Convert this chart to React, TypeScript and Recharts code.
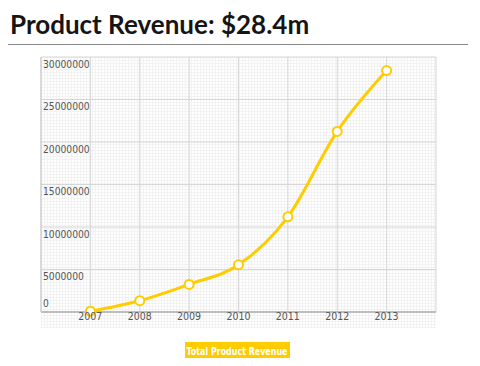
import { LineChart, Line, XAxis, YAxis, CartesianGrid } from "recharts";

const years = [2007, 2008, 2009, 2010, 2011, 2012, 2013];
const revenue = [100000, 1330000, 3250000, 5550000, 11200000, 21250000, 28400000];
const yTicks = [0, 5000000, 10000000, 15000000, 20000000, 25000000, 30000000];
const seriesName = "Total Product Revenue";
const title = "Product Revenue: $28.4m";

const data = years.map((year, i) => ({ year, revenue: revenue[i] }));

const GOLD = "#FFCC00";
const TICK_FONT = "'DejaVu Sans Condensed', 'DejaVu Sans', sans-serif";
const PLOT_LEFT = 41;

// labels sit just under their gridline, the zero label sits above the axis
const YTick = (props: any) => {
  const { y, payload } = props;
  return (
    <text
      x={PLOT_LEFT + 2}
      y={y}
      dy={payload.value === 0 ? -5 : 10.5}
      textAnchor="start"
      fontSize={10.2}
      fontFamily={TICK_FONT}
      style={{ fontStretch: "condensed" }}
      fill="#555"
    >
      {payload.value}
    </text>
  );
};

const App = () => {
  return (
    <div
      style={{
        position: "absolute",
        left: 0,
        top: 0,
        width: 480,
        height: 366,
        background: "#fff",
        overflow: "hidden",
      }}
    >
      <div
        style={{
          position: "absolute",
          left: 10,
          top: 8,
          fontFamily: "Lato, sans-serif",
          fontWeight: 700,
          fontSize: 26,
          color: "#151515",
          whiteSpace: "nowrap",
        }}
      >
        {title}
      </div>
      <div
        style={{
          position: "absolute",
          left: 8,
          top: 44,
          width: 460,
          height: 1,
          background: "#8a8a8a",
        }}
      />
      {/* textured background behind the plot */}
      <div
        style={{
          position: "absolute",
          left: 41,
          top: 57,
          width: 395,
          height: 271,
          backgroundColor: "#fff",
          backgroundImage:
            "repeating-linear-gradient(90deg, #f2f2f2 0 1px, transparent 1px 3px), repeating-linear-gradient(0deg, #f2f2f2 0 1px, transparent 1px 3px)",
        }}
      />
      <div style={{ position: "absolute", left: 0, top: 0 }}>
        <LineChart
          width={480}
          height={366}
          data={data}
          margin={{ top: 57, right: 44, left: PLOT_LEFT, bottom: 34 }}
        >
          <CartesianGrid stroke="#d6d6d6" strokeWidth={1} />
          <XAxis
            dataKey="year"
            type="number"
            domain={[2006, 2014]}
            ticks={years}
            height={20}
            tickLine={false}
            tickSize={0}
            tickMargin={1}
            axisLine={{ stroke: "#bdbdbd", strokeWidth: 2 }}
            tick={{
              fontSize: 10.5,
              fontFamily: TICK_FONT,
              fill: "#555",
              style: { fontStretch: "condensed" },
            }}
          />
          <YAxis
            type="number"
            domain={[0, 30000000]}
            ticks={yTicks}
            width={1}
            mirror
            tickLine={false}
            axisLine={{ stroke: "#c8c8c8" }}
            tick={(p: any) => <YTick {...p} />}
            interval={0}
          />
          <Line
            type="monotone"
            dataKey="revenue"
            name={seriesName}
            stroke={GOLD}
            strokeWidth={3}
            dot={{ r: 4.5, fill: "#fff", stroke: GOLD, strokeWidth: 2 }}
            isAnimationActive={false}
          />
        </LineChart>
      </div>
      <div
        style={{
          position: "absolute",
          left: 185,
          top: 342,
          width: 105,
          height: 16,
          background: GOLD,
          color: "#fff",
          lineHeight: "16px",
          textAlign: "center",
          whiteSpace: "nowrap",
        }}
      >
        <span
          style={{
            display: "inline-block",
            fontFamily: TICK_FONT,
            fontStretch: "condensed",
            fontWeight: 700,
            fontSize: 10.5,
            transform: "scaleX(0.84)",
            transformOrigin: "center",
            margin: "0 -12px",
          }}
        >
          {seriesName}
        </span>
      </div>
    </div>
  );
};

export default App;
